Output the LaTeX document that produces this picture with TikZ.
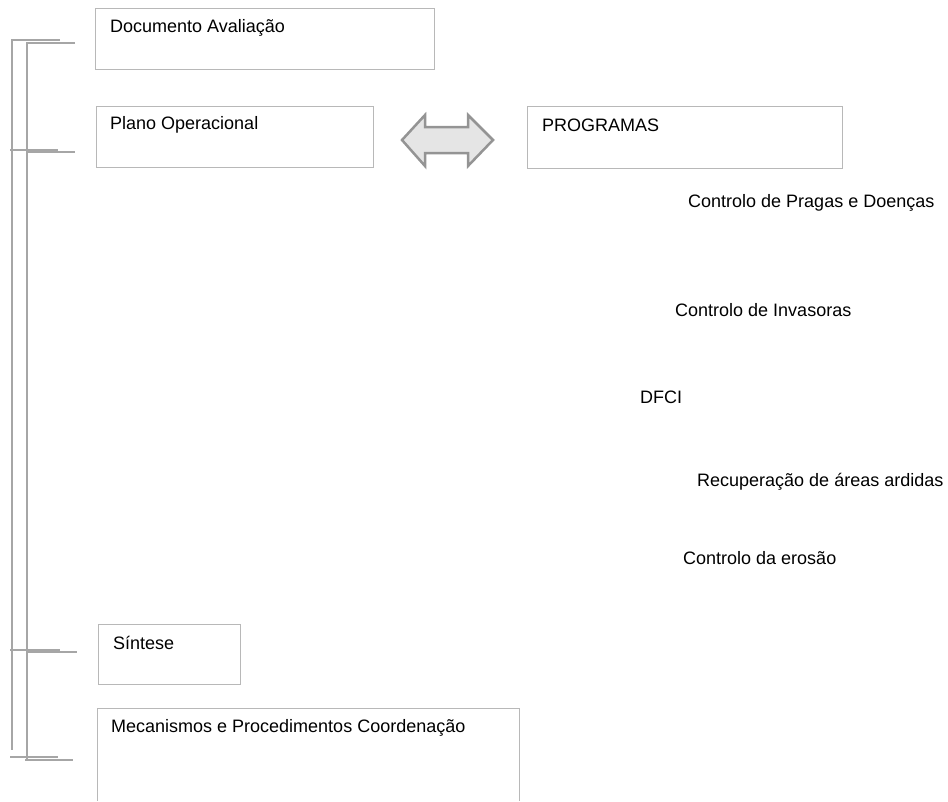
\documentclass[tikz,border=0pt]{standalone}
\usepackage{fontspec}
\setmainfont{Liberation Sans}
\begin{document}
\begin{tikzpicture}[x=1pt,y=-1pt,
  box/.style={draw=black!28,line width=0.8pt},
  lbl/.style={anchor=base west,inner sep=0pt,font=\fontsize{18}{20}\selectfont},
  brk/.style={draw=black!35,line width=2pt}]
\useasboundingbox (0,0) rectangle (948,801);
% boxes
\draw[box] (95,8) rectangle (434,69);
\draw[box] (96,106) rectangle (373,167);
\draw[box] (527,106) rectangle (842,168);
\draw[box] (98,624) rectangle (240,684);
\draw[box] (97,708) -- (97,801);
\draw[box] (97,708) -- (519,708) -- (519,801);
% labels
\node[lbl] (doc) at (110,32) {Documento Avaliação};
\node[lbl] (plano) at (110,129) {Plano Operacional};
\node[lbl] (prog) at (542,131) {PROGRAMAS};
\node[lbl] (sint) at (113,649) {Síntese};
\node[lbl] (mec) at (111,732) {Mecanismos e Procedimentos Coordenação};
\node[lbl] (p1) at (688,207) {Controlo de Pragas e Doenças};
\node[lbl] (p2) at (675,316) {Controlo de Invasoras};
\node[lbl] (p3) at (640,403) {DFCI};
\node[lbl] (p4) at (697,486) {Recuperação de áreas ardidas};
\node[lbl] (p5) at (683,564) {Controlo da erosão};
% double arrow
\draw[draw=black!42,line width=2.5pt,fill=black!10,line join=miter]
  (402,140) -- (425,115) -- (425,127) -- (468,127) -- (468,115) -- (493,140)
  -- (468,166) -- (468,153) -- (425,153) -- (425,166) -- cycle;
% brackets
\coordinate (o1) at (12,40); \coordinate (o4) at (12,750);
\draw[brk] (60,40) -- (12,40) -- (12,750);
\draw[brk] (10,150) -- (58,150);
\draw[brk] (10,650) -- (60,650);
\draw[brk] (10,757) -- (58,757);
\draw[brk] (75,43) -- (27,43) -- (27,760);
\draw[brk] (27,152) -- (75,152);
\draw[brk] (27,652) -- (77,652);
\draw[brk] (25,760) -- (73,760);
\end{tikzpicture}
\end{document}
